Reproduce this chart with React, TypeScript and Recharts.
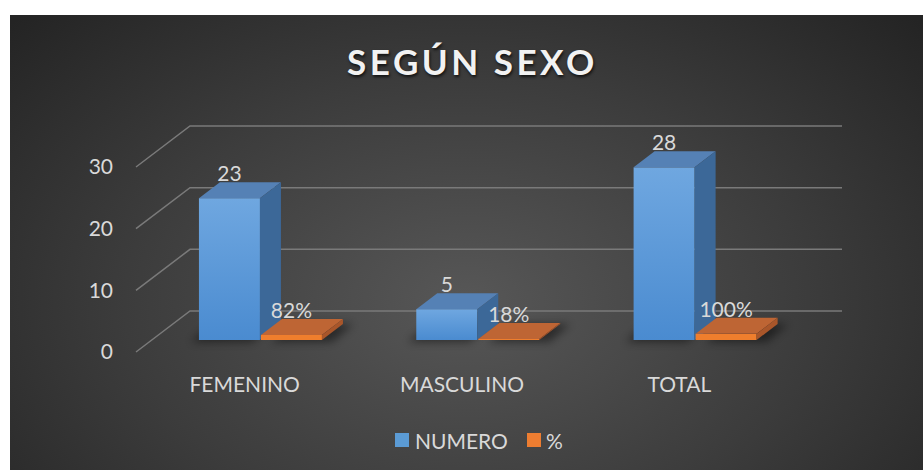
import React from 'react';
import { BarChart, Bar, XAxis, YAxis, CartesianGrid, Legend, LabelList } from 'recharts';

const categories = ['FEMENINO', 'MASCULINO', 'TOTAL'];
const numero = [23, 5, 28];
const porcentaje = [0.82, 0.18, 1];
const yTicks = [0, 10, 20, 30];

const data = categories.map((sexo, i) => ({
    sexo,
    NUMERO: numero[i],
    '%': porcentaje[i]
}));

const FONT = 'Lato, "Open Sans", sans-serif';
const TEXT = '#d9d9d9';

// floor / wall depth of the fake 3D box
const WALL_DX = 54;
const WALL_DY = -41;
// bars stand a bit behind the front edge
const PLANE_DX = 16;
const PLANE_DY = -12;
// bar depth
const BAR_DX = 21;
const BAR_DY = -16;

const gridLine = (props: any) => {
    const { x1, y1, x2, key } = props;
    return (
        <path
            key={key}
            d={`M${x1},${y1} L${x1 + WALL_DX},${y1 + WALL_DY} L${x2 + WALL_DX},${y1 + WALL_DY}`}
            stroke="#7a7a7a"
            strokeWidth={1.5}
            fill="none"
        />
    );
};

const makeBox = (front: string, top: string, side: string, shadow: 'left' | 'right') => (props: any) => {
    const { x, y, width, height } = props;
    const x0 = x + PLANE_DX;
    const y0 = y + PLANE_DY;
    const h = Math.max(height, 1);
    const yb = y0 + h;
    const sx = shadow === 'left' ? -8 : 10;
    return (
        <g>
            <polygon
                points={`${x0 + sx},${yb + 2} ${x0 + sx + BAR_DX},${yb + BAR_DY} ${x0 + width + sx + BAR_DX},${yb + BAR_DY} ${x0 + width + sx},${yb + 2}`}
                fill="#000"
                opacity={0.45}
                filter="url(#soft)"
            />
            <rect x={x0} y={y0} width={width} height={h} fill={front} />
            <polygon
                points={`${x0},${y0} ${x0 + BAR_DX},${y0 + BAR_DY} ${x0 + width + BAR_DX},${y0 + BAR_DY} ${x0 + width},${y0}`}
                fill={top}
            />
            <polygon
                points={`${x0 + width},${y0} ${x0 + width + BAR_DX},${y0 + BAR_DY} ${x0 + width + BAR_DX},${yb + BAR_DY} ${x0 + width},${yb}`}
                fill={side}
            />
        </g>
    );
};

const blueBox = makeBox('url(#blueFront)', '#5581b5', '#3c6898', 'left');
const orangeBox = makeBox('#ef7e2d', '#be6534', '#a9562a', 'right');

const valueLabel = (fmt: (v: number) => string) => (props: any) => {
    const { x, y, width, value, index } = props;
    return (
        <text
            key={index}
            x={x + PLANE_DX + width / 2}
            y={y + PLANE_DY - 17}
            textAnchor="middle"
            fill={TEXT}
            fontSize={21}
            fontFamily={FONT}
        >
            {fmt(Number(value))}
        </text>
    );
};

const LegendContent = () => (
    <div style={{ display: 'flex', alignItems: 'center', height: 30, fontFamily: FONT, fontSize: 21, color: TEXT }}>
        <span style={{ width: 14, height: 14, background: '#5b9bd5', marginRight: 6 }} />
        <span style={{ marginRight: 19 }}>NUMERO</span>
        <span style={{ width: 14, height: 14, background: '#ed7d31', marginRight: 5 }} />
        <span>%</span>
    </div>
);

export default function App() {
    return (
        <div style={{ position: 'absolute', left: 0, top: 0, width: 923, height: 470, background: '#fff', overflow: 'hidden' }}>
            <div
                style={{
                    position: 'absolute',
                    left: 10,
                    top: 15,
                    width: 913,
                    height: 455,
                    background: 'radial-gradient(ellipse 68% 90% at 50% 63%, #575757 0%, #3c3c3c 55%, #242424 100%)'
                }}
            >
                <div
                    style={{
                        position: 'absolute',
                        left: 0,
                        top: 29,
                        width: 925,
                        textAlign: 'center',
                        fontFamily: FONT,
                        fontWeight: 700,
                        fontSize: 35,
                        lineHeight: '35px',
                        letterSpacing: 3.5,
                        color: '#f2f2f2',
                        textShadow: '1px 2px 3px rgba(0,0,0,0.7)'
                    }}
                >
                    SEGÚN SEXO
                </div>
                <BarChart
                    width={913}
                    height={455}
                    data={data}
                    margin={{ top: 152, right: 135, left: 66, bottom: 15 }}
                    barCategoryGap="21.6%"
                    barGap={1}
                >
                    <defs>
                        <linearGradient id="blueFront" x1="0" y1="0" x2="0" y2="1">
                            <stop offset="0%" stopColor="#6fa7e0" />
                            <stop offset="100%" stopColor="#4a8bd0" />
                        </linearGradient>
                        <filter id="soft" x="-50%" y="-50%" width="200%" height="200%">
                            <feGaussianBlur stdDeviation="4" />
                        </filter>
                    </defs>
                    <CartesianGrid horizontal={gridLine} vertical={false} />
                    <XAxis
                        dataKey="sexo"
                        height={73}
                        axisLine={false}
                        tickLine={false}
                        tickSize={0}
                        tickMargin={25}
                        tick={{ fill: TEXT, fontSize: 21, fontFamily: FONT }}
                    />
                    <YAxis
                        width={60}
                        domain={[0, 30]}
                        ticks={yTicks}
                        axisLine={false}
                        tickLine={false}
                        tickSize={0}
                        tickMargin={23}
                        tick={{ fill: TEXT, fontSize: 21, fontFamily: FONT }}
                    />
                    <Legend
                        verticalAlign="bottom"
                        height={30}
                        wrapperStyle={{ left: 385, width: 300 }}
                        content={LegendContent}
                    />
                    <Bar dataKey="NUMERO" fill="#5b9bd5" shape={blueBox} isAnimationActive={false}>
                        <LabelList dataKey="NUMERO" content={valueLabel(v => String(v))} />
                    </Bar>
                    <Bar dataKey="%" fill="#ed7d31" shape={orangeBox} isAnimationActive={false}>
                        <LabelList dataKey="%" content={valueLabel(v => `${Math.round(v * 100)}%`)} />
                    </Bar>
                </BarChart>
            </div>
        </div>
    );
}
